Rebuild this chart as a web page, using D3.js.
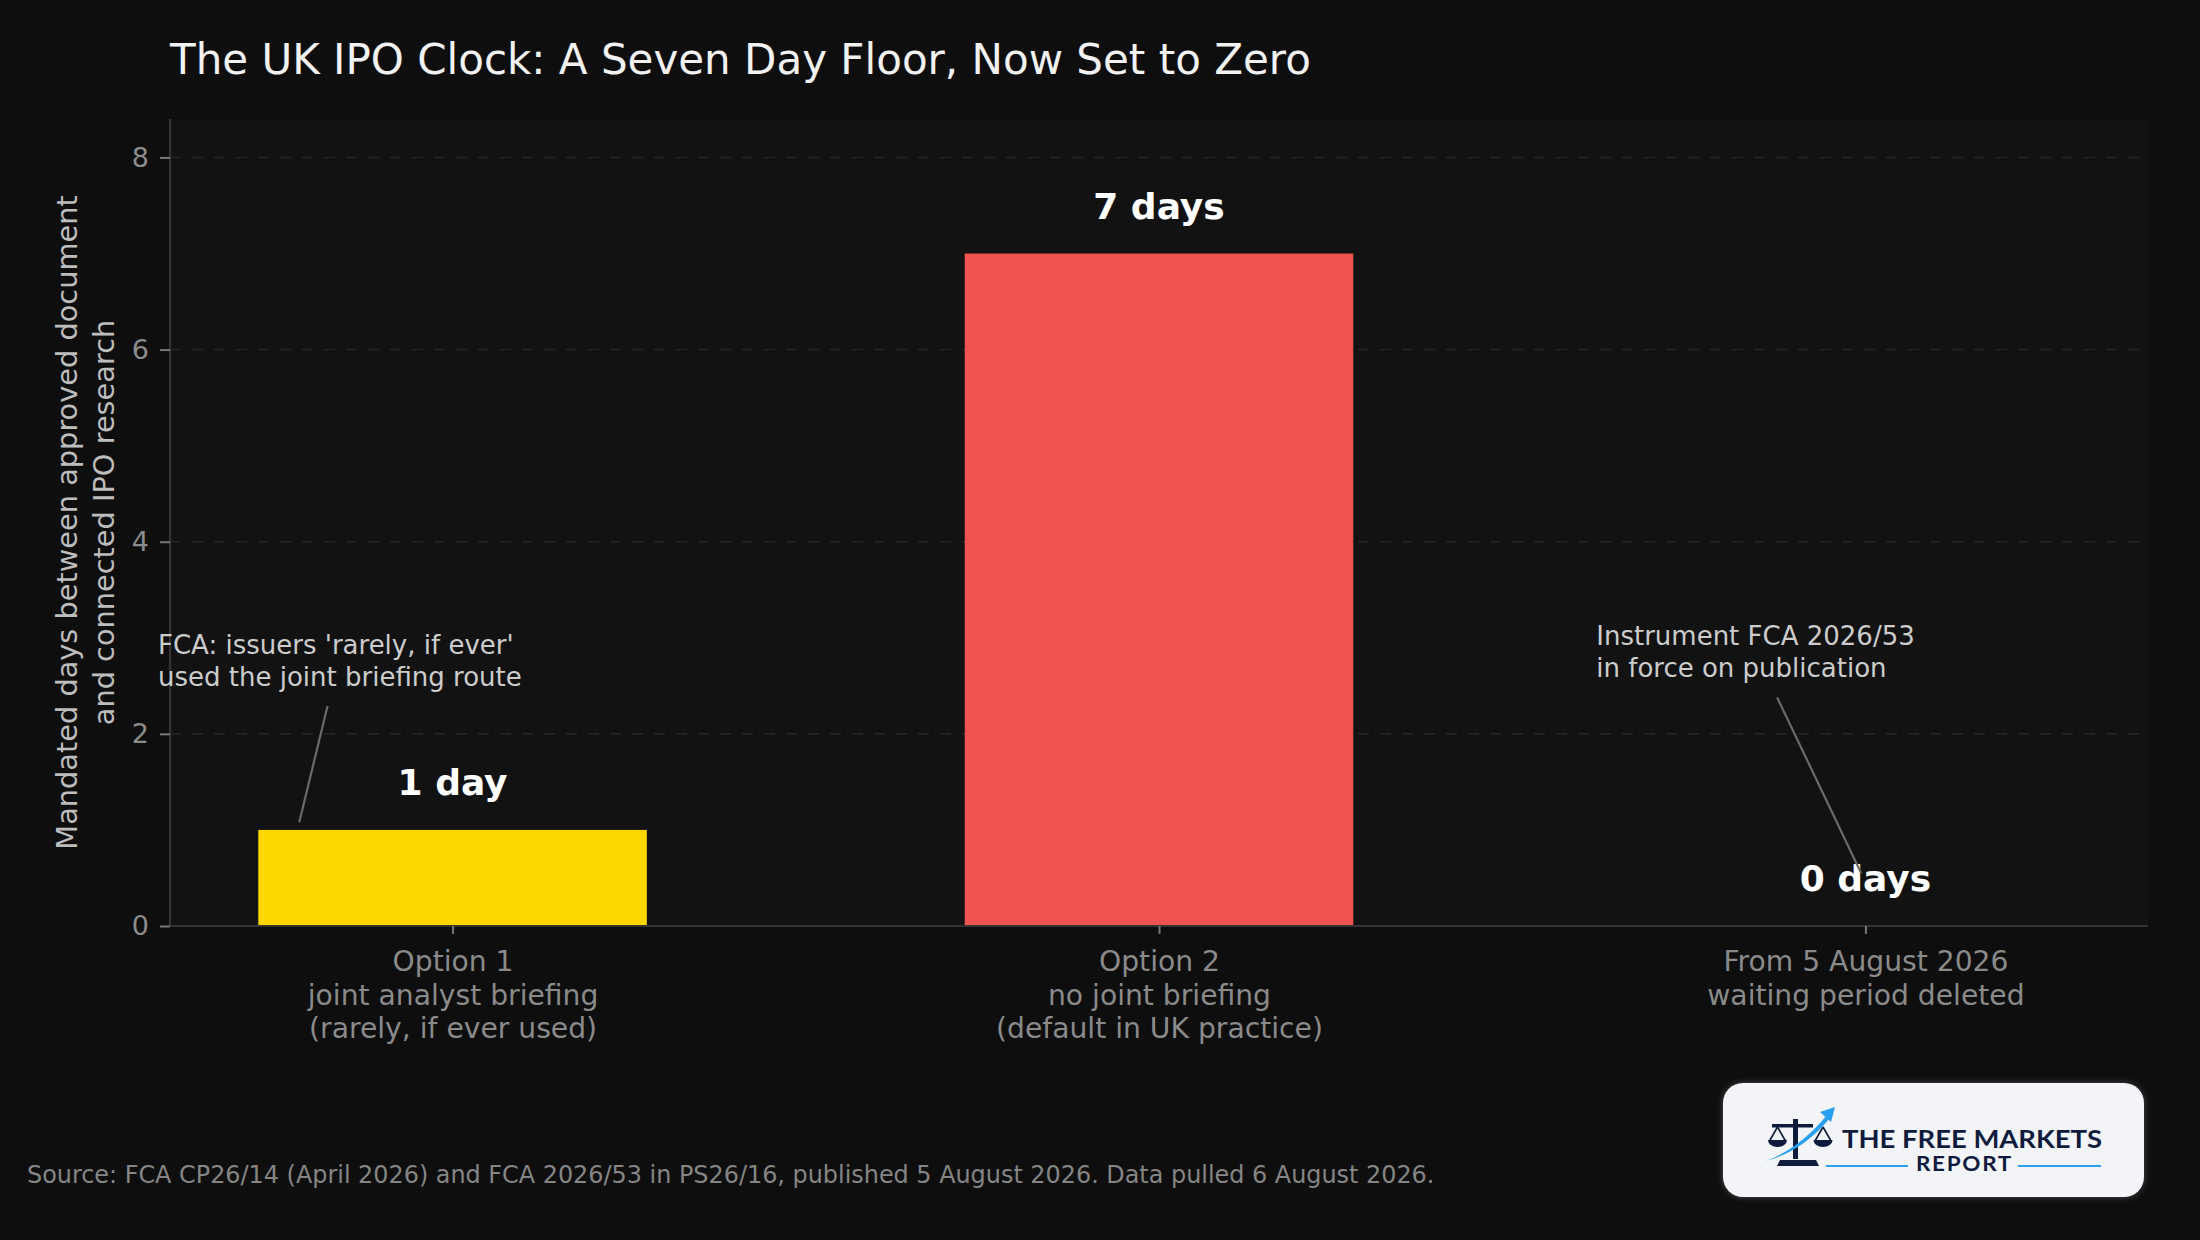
<!DOCTYPE html>
<html>
<head>
<meta charset="utf-8">
<script src="https://cdn.jsdelivr.net/npm/d3@7"></script>
<style>
  html, body { margin: 0; padding: 0; background: #0e0e0e; }
  svg { display: block; }
</style>
</head>
<body>
<script>
// ---- data ----
const categories = [
  ["Option 1", "joint analyst briefing", "(rarely, if ever used)"],
  ["Option 2", "no joint briefing", "(default in UK practice)"],
  ["From 5 August 2026", "waiting period deleted"]
];
const values = [1, 7, 0];
const valueLabels = ["1 day", "7 days", "0 days"];
const yTicks = [0, 2, 4, 6, 8];
const annotationTexts = [
  ["FCA: issuers 'rarely, if ever'", "used the joint briefing route"],
  ["Instrument FCA 2026/53", "in force on publication"]
];
// annotation anchor points in data units: [textX, textY, lineFromX, lineFromY, lineToX, lineToY]
const annotationPoints = [
  [-0.417, 2.83, -0.177, 2.29, -0.217, 1.08],
  [1.619, 2.92, 1.875, 2.38, 1.994, 0.55]
];
const titleText = "The UK IPO Clock: A Seven Day Floor, Now Set to Zero";
const yLabel = ["Mandated days between approved document", "and connected IPO research"];
const sourceText = "Source: FCA CP26/14 (April 2026) and FCA 2026/53 in PS26/16, published 5 August 2026. Data pulled 6 August 2026.";

// ---- style ----
const barColors = ["#FFD700", "#EF5350", "#EF5350"];
const W = 2200, H = 1240;
const plot = { left: 170, right: 2148, top: 119, bottom: 926 };
const FONT = "'DejaVu Sans', sans-serif";

const svg = d3.select("body").append("svg").attr("width", W).attr("height", H);
svg.append("rect").attr("width", W).attr("height", H).attr("fill", "#0e0e0e");

const x = d3.scaleLinear().domain([-0.4, 2.4]).range([plot.left, plot.right]);
const y = d3.scaleLinear().domain([0, 8.4]).range([plot.bottom, plot.top]);
const barW = 0.55;

// plot background
svg.append("rect")
  .attr("x", plot.left).attr("y", plot.top)
  .attr("width", plot.right - plot.left).attr("height", plot.bottom - plot.top)
  .attr("fill", "#121212");

// grid
svg.append("g").selectAll("line").data(yTicks.filter(d => d > 0)).join("line")
  .attr("x1", plot.left).attr("x2", plot.right)
  .attr("y1", d => y(d)).attr("y2", d => y(d))
  .attr("stroke", "#242424").attr("stroke-width", 1.6)
  .attr("stroke-dasharray", "11,11");

// bars
svg.append("g").selectAll("rect").data(values).join("rect")
  .attr("x", (d, i) => x(i - barW / 2))
  .attr("width", x(barW) - x(0))
  .attr("y", d => y(d))
  .attr("height", d => y(0) - y(d))
  .attr("fill", (d, i) => barColors[i]);

// y axis
const yAxis = svg.append("g").attr("transform", `translate(${plot.left},0)`)
  .call(d3.axisLeft(y).tickValues(yTicks).tickSize(10).tickPadding(11).tickFormat(d3.format("d")));
yAxis.select(".domain").attr("stroke", "#333").attr("stroke-width", 2.2)
  .attr("d", `M0,${plot.top}V${plot.bottom}`);
yAxis.selectAll(".tick line").attr("stroke", "#777").attr("stroke-width", 2);
yAxis.selectAll(".tick text").attr("fill", "#8c8c8c").attr("font-family", FONT).attr("font-size", 27);

// x axis
const xAxis = svg.append("g").attr("transform", `translate(0,${plot.bottom})`)
  .call(d3.axisBottom(x).tickValues([0, 1, 2]).tickSize(8).tickFormat(""));
xAxis.select(".domain").attr("stroke", "#333").attr("stroke-width", 2.2)
  .attr("d", `M${plot.left},0H${plot.right}`);
xAxis.selectAll(".tick line").attr("stroke", "#777").attr("stroke-width", 2);
xAxis.selectAll(".tick").each(function(d) {
  const t = d3.select(this).append("text")
    .attr("fill", "#8a8a8a").attr("font-family", FONT).attr("font-size", 28.2)
    .attr("text-anchor", "middle");
  categories[d].forEach((line, k) => {
    t.append("tspan").attr("x", 0).attr("y", 45 + k * 33.5).text(line);
  });
});

// annotations (lines under the value labels' text layer order as in reference)
annotationPoints.forEach((p, i) => {
  const t = svg.append("text").attr("font-family", FONT).attr("font-size", 26)
    .attr("fill", "#cccccc");
  annotationTexts[i].forEach((line, k) => {
    t.append("tspan").attr("x", x(p[0])).attr("y", y(p[1]) + k * 31.5).text(line);
  });
});

// value labels
svg.append("g").selectAll("text").data(values).join("text")
  .attr("x", (d, i) => x(i))
  .attr("y", d => y(d) - 35)
  .attr("text-anchor", "middle")
  .attr("font-family", FONT).attr("font-weight", "bold").attr("font-size", 36)
  .attr("fill", "#ffffff")
  .text((d, i) => valueLabels[i]);

annotationPoints.forEach((p) => {
  svg.append("line")
    .attr("x1", x(p[2])).attr("y1", y(p[3]))
    .attr("x2", x(p[4])).attr("y2", y(p[5]))
    .attr("stroke", "#6a6a6a").attr("stroke-width", 2.2);
});

// title
svg.append("text").attr("x", 170).attr("y", 74)
  .attr("font-family", FONT).attr("font-size", 42).attr("fill", "#f2f2f2")
  .text(titleText);

// y label
const yl = svg.append("text")
  .attr("transform", `translate(0,${(plot.top + plot.bottom) / 2}) rotate(-90)`)
  .attr("text-anchor", "middle")
  .attr("font-family", FONT).attr("font-size", 28.8).attr("fill", "#bdbdbd");
yLabel.forEach((line, k) => {
  yl.append("tspan").attr("x", 0).attr("y", 77 + k * 36.5).text(line);
});

// source
svg.append("text").attr("x", 27).attr("y", 1183)
  .attr("font-family", FONT).attr("font-size", 23.9).attr("fill", "#858585")
  .text(sourceText);

// logo
const defs = svg.append("defs");
const f = defs.append("filter").attr("id", "glow").attr("x", "-10%").attr("y", "-20%").attr("width", "120%").attr("height", "140%");
f.append("feGaussianBlur").attr("in", "SourceAlpha").attr("stdDeviation", 3).attr("result", "b");
f.append("feFlood").attr("flood-color", "#ffffff").attr("flood-opacity", 0.25);
f.append("feComposite").attr("in2", "b").attr("operator", "in").attr("result", "s");
const fm = f.append("feMerge");
fm.append("feMergeNode").attr("in", "s");
fm.append("feMergeNode").attr("in", "SourceGraphic");

const logo = svg.append("g");
logo.append("rect").attr("x", 1723).attr("y", 1083).attr("width", 421).attr("height", 114)
  .attr("rx", 20).attr("fill", "#f2f4f8").attr("filter", "url(#glow)");
const navy = "#0f1b3d", blue = "#2aa0f0";
// scales icon
logo.append("rect").attr("x", 1793).attr("y", 1119).attr("width", 5).attr("height", 40).attr("fill", navy);
logo.append("rect").attr("x", 1772).attr("y", 1124).attr("width", 41).attr("height", 3.5).attr("fill", navy);
logo.append("path").attr("d", "M1780,1160 L1816,1160 L1819,1166 L1777,1166 Z").attr("fill", navy);
[[1777.5, 1127], [1823, 1127]].forEach(([cx, cy]) => {
  logo.append("path").attr("d", `M${cx},${cy} L${cx - 8},${cy + 14} M${cx},${cy} L${cx + 8},${cy + 14}`)
    .attr("stroke", navy).attr("stroke-width", 1.6).attr("fill", "none");
  logo.append("path").attr("d", `M${cx - 9.5},${cy + 13} L${cx + 9.5},${cy + 13} A9.5,7 0 0 1 ${cx - 9.5},${cy + 13} Z`)
    .attr("fill", navy);
});
logo.append("path").attr("d", "M1766,1161 Q1800,1148 1827,1115 L1830,1118 Q1803,1151 1766,1161 Z").attr("fill", blue);
logo.append("path").attr("d", "M1835,1107 L1820,1112 L1831,1122 Z").attr("fill", blue);
logo.append("text").attr("x", 1842).attr("y", 1148)
  .attr("font-family", "Lato, 'Open Sans', sans-serif").attr("font-weight", "bold")
  .attr("font-size", 25).attr("fill", navy)
  .attr("textLength", 260).attr("lengthAdjust", "spacingAndGlyphs")
  .text("THE FREE MARKETS");
logo.append("text").attr("x", 1916).attr("y", 1171)
  .attr("font-family", "Lato, 'Open Sans', sans-serif").attr("font-weight", "bold")
  .attr("font-size", 20).attr("fill", navy)
  .attr("textLength", 97).attr("lengthAdjust", "spacingAndGlyphs")
  .attr("letter-spacing", 1.5)
  .text("REPORT");
logo.append("line").attr("x1", 1826).attr("x2", 1908).attr("y1", 1166).attr("y2", 1166).attr("stroke", blue).attr("stroke-width", 2);
logo.append("line").attr("x1", 2018).attr("x2", 2101).attr("y1", 1166).attr("y2", 1166).attr("stroke", blue).attr("stroke-width", 2);
</script>
</body>
</html>
